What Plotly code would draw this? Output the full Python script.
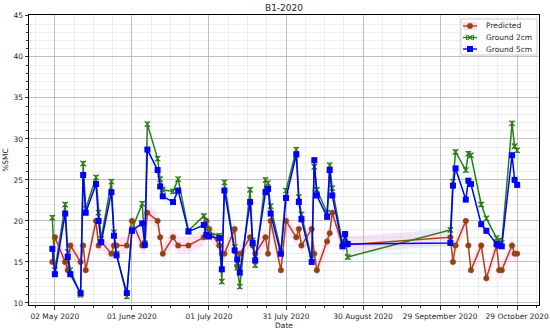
import plotly.graph_objects as go
import pandas as pd

dates = [
    "2020-05-01", "2020-05-02",
    "2020-05-06", "2020-05-07", "2020-05-08",
    "2020-05-12", "2020-05-13", "2020-05-14",
    "2020-05-18", "2020-05-19", "2020-05-20",
    "2020-05-24", "2020-05-25", "2020-05-26",
    "2020-05-30", "2020-06-01",
    "2020-06-05", "2020-06-06", "2020-06-07",
    "2020-06-11", "2020-06-12", "2020-06-13",
    "2020-06-17", "2020-06-19",
    "2020-06-23",
    "2020-06-29", "2020-06-30", "2020-07-01",
    "2020-07-05", "2020-07-06", "2020-07-07",
    "2020-07-11", "2020-07-12", "2020-07-13",
    "2020-07-17", "2020-07-18", "2020-07-19",
    "2020-07-23", "2020-07-24", "2020-07-25",
    "2020-07-29", "2020-07-31",
    "2020-08-04", "2020-08-05", "2020-08-06",
    "2020-08-10", "2020-08-11", "2020-08-12",
    "2020-08-16", "2020-08-17", "2020-08-18",
    "2020-08-22", "2020-08-23", "2020-08-24",
    "2020-10-03", "2020-10-04", "2020-10-05",
    "2020-10-09", "2020-10-10", "2020-10-11",
    "2020-10-15", "2020-10-17",
    "2020-10-21", "2020-10-22", "2020-10-23",
    "2020-10-27", "2020-10-28", "2020-10-29",
]

predicted = [
    15, 18,
    15, 14, 17,
    15, 17, 14,
    20, 17, 17.5,
    16, 17, 17,
    17, 20,
    17, 17, 21,
    20, 18, 16,
    18, 17,
    17,
    18, 20, 19,
    17, 16, 16,
    19, 14.5, 16,
    18, 17, 16,
    18, 16, 20,
    14, 20,
    18, 19, 17,
    19, 16, 14,
    17.5, 18.5, 21,
    17, 17.5, 17.1,
    18, 15, 17,
    20, 17, 14,
    17, 13,
    17, 14, 14,
    17, 16, 16,
]

ground_2cm = [
    20.4, 14.0,
    22.0, 16.2, 14.0,
    11.0, 27.0, 21.5,
    25.3, 21.0, 17.8,
    24.8, 18.6, 16.0,
    10.8, 19.0,
    22.1, 17.3, 31.8,
    27.6, 25.1, 23.8,
    23.6, 25.1,
    18.8,
    20.6, 19.6, 18.6,
    18.2, 12.6, 24.7,
    16.8, 14.3, 12.0,
    23.8, 17.6, 14.6,
    25.0, 24.6, 21.8,
    16.3, 23.7,
    28.7, 22.9, 20.8,
    15.4, 26.6, 23.8,
    21.0, 26.8, 24.0,
    17.2, 17.9, 15.6,
    18.9, 24.8, 28.4,
    26.2, 28.2, 28.0,
    22.0, 20.3,
    17.9, 17.6, 17.3,
    31.9, 29.1, 28.6,
]

ground_5cm = [
    16.6, 13.5,
    20.9, 15.6, 13.5,
    11.2, 25.6, 21.0,
    24.5, 20.0, 17.4,
    23.5, 18.2, 15.8,
    11.2, 18.8,
    19.7, 17.1, 28.7,
    26.2, 24.2, 23.0,
    22.3, 23.7,
    18.7,
    19.5, 18.3, 18.1,
    17.9, 14.1, 23.7,
    16.4, 15.3, 13.7,
    22.3, 17.3, 15.2,
    23.5, 23.9, 20.9,
    16.0, 22.8,
    28.1, 22.3, 20.2,
    15.0, 27.4, 23.1,
    20.5, 26.2, 23.1,
    16.9, 18.4, 17.2,
    17.3, 24.3, 26.4,
    22.6, 24.9, 24.5,
    19.6, 18.8,
    17.2, 17.0, 16.9,
    28.0, 25.0, 24.4,
]

tick_dates = ["2020-05-02", "2020-06-01", "2020-07-01", "2020-07-31",
              "2020-08-30", "2020-09-29", "2020-10-29"]
tick_labels = ["02 May 2020", "01 June 2020", "01 July 2020", "31 July 2020",
               "30 August 2020", "29 September 2020", "29 October 2020"]

series_names = ["Predicted", "Ground 2cm", "Ground 5cm"]

FONT = "DejaVu Sans"
TXT = "#262626"
C_PRED_LINE = "#b5401c"
C_PRED_MARK = "#8b4513"
C_G2 = "#2f7a1a"
C_G5 = "#0000ff"

# plot-area geometry in pixels
L, R, T, B = 29, 539, 15, 305
W, H = 550, 331


def px(x):
    return (x - L) / (R - L)


def py(y):
    return (B - y) / (B - T)


# minor ticks every 7.5 days (4 per major interval)
t0 = pd.Timestamp("2020-05-02")
minor_ticks = [(t0 + pd.Timedelta(hours=180 * k)).strftime("%Y-%m-%d %H:%M")
               for k in range(-2, 26) if k % 4 != 0]

fig = go.Figure()

# shaded bands
band_x = dates + dates[::-1]
pred_hi = [v + 1.0 for v in predicted]
pred_lo = [v - 1.0 for v in predicted]
fig.add_trace(go.Scatter(x=band_x, y=pred_hi + pred_lo[::-1], fill="toself",
                         fillcolor="rgba(255,120,210,0.2)", line=dict(width=0),
                         hoverinfo="skip", showlegend=False))
g_hi = [max(a, b) + 0.6 for a, b in zip(ground_2cm, ground_5cm)]
g_lo = [min(a, b) - 0.6 for a, b in zip(ground_2cm, ground_5cm)]
fig.add_trace(go.Scatter(x=band_x, y=g_hi + g_lo[::-1], fill="toself",
                         fillcolor="rgba(120,255,220,0.10)", line=dict(width=0),
                         hoverinfo="skip", showlegend=False))

fig.add_trace(go.Scatter(
    x=dates, y=predicted, name=series_names[0], mode="lines+markers",
    line=dict(color=C_PRED_LINE, width=1.5),
    marker=dict(symbol="circle", size=5.5, color=C_PRED_MARK,
                line=dict(color=C_PRED_LINE, width=0.5)),
    showlegend=False,
))
fig.add_trace(go.Scatter(
    x=dates, y=ground_2cm, name=series_names[1], mode="lines+markers",
    line=dict(color=C_G2, width=1.5),
    marker=dict(symbol="x-thin", size=5.5, color=C_G2,
                line=dict(color=C_G2, width=1.1)),
    error_y=dict(type="constant", value=0.25, color=C_G2, thickness=1, width=2),
    showlegend=False,
))
fig.add_trace(go.Scatter(
    x=dates, y=ground_5cm, name=series_names[2], mode="lines+markers",
    line=dict(color=C_G5, width=1.5),
    marker=dict(symbol="square", size=6, color=C_G5),
    error_y=dict(type="constant", value=0.25, color=C_G5, thickness=1, width=2),
    showlegend=False,
))

# ---- custom compact legend (matplotlib-like) ----
shapes = []
annotations = []
shapes.append(dict(type="rect", xref="paper", yref="paper",
                   x0=px(461), x1=px(537), y0=py(55), y1=py(19),
                   line=dict(color="#cccccc", width=1),
                   fillcolor="rgba(255,255,255,0.85)", layer="above"))
rows = [26, 37.5, 49]
lx0, lx1, lxm = 463, 477, 470
# Predicted
r = rows[0]
shapes.append(dict(type="rect", xref="paper", yref="paper",
                   x0=px(lx0), x1=px(lx1), y0=py(r + 4), y1=py(r - 4),
                   line=dict(width=0), fillcolor="rgba(255,150,220,0.35)", layer="above"))
shapes.append(dict(type="line", xref="paper", yref="paper",
                   x0=px(lx0), x1=px(lx1), y0=py(r), y1=py(r),
                   line=dict(color=C_PRED_LINE, width=1.4), layer="above"))
shapes.append(dict(type="circle", xref="paper", yref="paper",
                   x0=px(lxm - 2.7), x1=px(lxm + 2.7), y0=py(r + 2.7), y1=py(r - 2.7),
                   line=dict(color=C_PRED_LINE, width=0.5), fillcolor=C_PRED_MARK,
                   layer="above"))
# Ground 2cm
r = rows[1]
shapes.append(dict(type="line", xref="paper", yref="paper",
                   x0=px(lx0), x1=px(lx1), y0=py(r), y1=py(r),
                   line=dict(color=C_G2, width=1.4), layer="above"))
for dx in (-2.5, 2.5):
    shapes.append(dict(type="line", xref="paper", yref="paper",
                       x0=px(lxm - 2.5), x1=px(lxm + 2.5),
                       y0=py(r - dx), y1=py(r + dx),
                       line=dict(color=C_G2, width=1.1), layer="above"))
for cx in (lxm - 3.5, lxm + 3.5):
    shapes.append(dict(type="line", xref="paper", yref="paper",
                       x0=px(cx), x1=px(cx), y0=py(r - 2.5), y1=py(r + 2.5),
                       line=dict(color=C_G2, width=1), layer="above"))
# Ground 5cm
r = rows[2]
shapes.append(dict(type="line", xref="paper", yref="paper",
                   x0=px(lx0), x1=px(lx1), y0=py(r), y1=py(r),
                   line=dict(color=C_G5, width=1.4), layer="above"))
shapes.append(dict(type="rect", xref="paper", yref="paper",
                   x0=px(lxm - 3), x1=px(lxm + 3), y0=py(r + 3), y1=py(r - 3),
                   line=dict(width=0), fillcolor=C_G5, layer="above"))
for name, r in zip(series_names, rows):
    annotations.append(dict(text=name, xref="paper", yref="paper",
                            x=px(484), y=py(r), xanchor="left", yanchor="middle",
                            showarrow=False,
                            font=dict(family=FONT, size=7.5, color=TXT)))

fig.update_layout(
    width=W, height=H,
    margin=dict(l=L, r=W - R, t=T, b=H - B),
    paper_bgcolor="white", plot_bgcolor="white",
    font=dict(family=FONT, size=7.5, color=TXT),
    title=dict(text="B1-2020", x=px(284), xref="paper", xanchor="center",
               y=1 - 7.5 / H, yanchor="middle",
               font=dict(family=FONT, size=9, color=TXT)),
    showlegend=False,
    hovermode=False,
    shapes=shapes,
    annotations=annotations,
    xaxis=dict(
        type="date", automargin=False,
        range=["2020-04-21 22:00", "2020-11-06 12:00"],
        tickmode="array", tickvals=tick_dates, ticktext=tick_labels, tickangle=0,
        ticks="outside", ticklen=3.5, tickcolor="black", tickwidth=0.8,
        showline=True, linecolor="black", linewidth=1, mirror=True,
        showgrid=True, gridcolor="#b0b0b0", gridwidth=0.8,
        minor=dict(tickmode="array", tickvals=minor_ticks, showgrid=True,
                   gridcolor="#e3e3e3", gridwidth=0.6,
                   ticks="outside", ticklen=2, tickcolor="black"),
        title=dict(text="Date", standoff=3, font=dict(family=FONT, size=7.5)),
        tickfont=dict(family=FONT, size=7.5, color=TXT),
        zeroline=False,
    ),
    yaxis=dict(
        range=[9.75, 45.1], automargin=False,
        tickmode="linear", tick0=0, dtick=5,
        ticks="outside", ticklen=3.5, tickcolor="black", tickwidth=0.8,
        showline=True, linecolor="black", linewidth=1, mirror=True,
        showgrid=True, gridcolor="#b0b0b0", gridwidth=0.8,
        minor=dict(tickmode="linear", dtick=1, showgrid=True,
                   gridcolor="#e3e3e3", gridwidth=0.6,
                   ticks="outside", ticklen=2, tickcolor="black"),
        title=dict(text="%SMC", standoff=3, font=dict(family=FONT, size=7.5)),
        tickfont=dict(family=FONT, size=7.5, color=TXT),
        zeroline=False,
    ),
)

fig.write_html("out.html",
               config={"displayModeBar": False, "staticPlot": True},
               post_script="document.body.style.margin='0px';"
                           "document.body.style.overflow='hidden';")
